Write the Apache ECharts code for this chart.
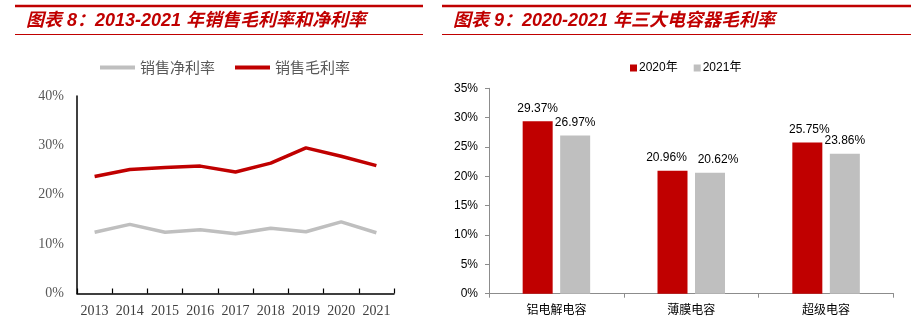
<!DOCTYPE html>
<html>
<head>
<meta charset="utf-8">
<script src="https://cdn.jsdelivr.net/npm/echarts@6/dist/echarts.min.js"></script>
<style>
html,body{margin:0;padding:0;background:#fff;}
#c{width:922px;height:324px;}
</style>
</head>
<body>
<div id="c"></div>
<script>
// Left chart: 2013-2021 gross and net margin (%)
const years = ['2013','2014','2015','2016','2017','2018','2019','2020','2021'];
const netMargin = [12.4, 14.0, 12.4, 12.9, 12.1, 13.2, 12.5, 14.5, 12.3];
const grossMargin = [23.7, 25.1, 25.5, 25.8, 24.6, 26.4, 29.5, 27.8, 25.9];
const leftNames = ['销售净利率', '销售毛利率'];

// Right chart: 2020-2021 gross margin of three capacitor types (%)
const capTypes = ['铝电解电容', '薄膜电容', '超级电容'];
const gm2020 = [29.37, 20.96, 25.75];
const gm2021 = [26.97, 20.62, 23.86];
const rightNames = ['2020年', '2021年'];

const title1 = '图表 8：2013-2021 年销售毛利率和净利率';
const title2 = '图表 9：2020-2021 年三大电容器毛利率';

const RED = '#C00000';
const GRAY = '#BFBFBF';
const SANS = 'Liberation Sans, Arial, Noto Sans CJK SC, sans-serif';
const SERIF = 'Liberation Serif, Times New Roman, Noto Serif CJK SC, Noto Sans CJK SC, serif';
const CJK = 'Noto Sans CJK SC, sans-serif';

// horizontal nudges of value labels (layout only) to avoid overlap
const offs2020 = [0, -6, 2];
const offs2021 = [0, 8, 0];

const chart = echarts.init(document.getElementById('c'), null, {renderer: 'canvas'});

const labelStyle = {show: true, position: 'top', distance: 7, formatter: p => p.value.toFixed(2) + '%',
                    fontFamily: SANS, fontSize: 12, color: '#000'};

chart.setOption({
  animation: false,
  backgroundColor: '#fff',
  graphic: [
    {type: 'line', shape: {x1: 15, y1: 6, x2: 423, y2: 6}, style: {stroke: RED, lineWidth: 2.5}},
    {type: 'line', shape: {x1: 15, y1: 34.5, x2: 423, y2: 34.5}, style: {stroke: RED, lineWidth: 1}},
    {type: 'line', shape: {x1: 442, y1: 6, x2: 911, y2: 6}, style: {stroke: RED, lineWidth: 2.5}},
    {type: 'line', shape: {x1: 442, y1: 34.5, x2: 911, y2: 34.5}, style: {stroke: RED, lineWidth: 1}},
    {type: 'text', left: 26, top: 12, style: {text: title1, fill: RED, font: 'italic bold 18px ' + SANS}},
    {type: 'text', left: 453, top: 12, style: {text: title2, fill: RED, font: 'italic bold 18px ' + SANS}}
  ],
  legend: [
    {
      data: leftNames,
      left: 95, top: 55,
      icon: 'rect',
      itemWidth: 35, itemHeight: 4,
      itemGap: 20,
      textStyle: {fontFamily: CJK, fontSize: 15, color: '#595959'}
    },
    {
      data: rightNames,
      left: 625, top: 57,
      icon: 'rect',
      itemWidth: 7, itemHeight: 7,
      itemGap: 16,
      textStyle: {fontFamily: SANS, fontSize: 12, color: '#000', padding: [0,0,0,-3]}
    }
  ],
  grid: [
    {left: 77, top: 96, width: 317, height: 197.5, containLabel: false},
    {left: 489, top: 88.3, width: 404.5, height: 205.4, containLabel: false}
  ],
  xAxis: [
    {
      gridIndex: 0, type: 'category', data: years, boundaryGap: true,
      axisLine: {lineStyle: {color: '#000', width: 1.5}},
      axisTick: {show: true, inside: true, length: 5, lineStyle: {color: '#000', width: 1.2}},
      axisLabel: {fontFamily: SERIF, fontSize: 14, color: '#404040', margin: 11, interval: 0}
    },
    {
      gridIndex: 1, type: 'category', data: capTypes, boundaryGap: true,
      axisLine: {lineStyle: {color: '#8c8c8c', width: 1}},
      axisTick: {show: true, inside: false, length: 4, lineStyle: {color: '#8c8c8c'}},
      axisLabel: {fontFamily: CJK, fontSize: 12, color: '#000', margin: 10, interval: 0}
    }
  ],
  yAxis: [
    {
      gridIndex: 0, type: 'value', min: 0, max: 40, interval: 10,
      axisLine: {show: true, lineStyle: {color: '#000', width: 1.5}},
      axisTick: {show: false},
      splitLine: {show: false},
      axisLabel: {formatter: '{value}%', fontFamily: SERIF, fontSize: 14, color: '#595959', margin: 13}
    },
    {
      gridIndex: 1, type: 'value', min: 0, max: 35, interval: 5,
      axisLine: {show: true, lineStyle: {color: '#8c8c8c', width: 1}},
      axisTick: {show: true, length: 4, lineStyle: {color: '#8c8c8c'}},
      splitLine: {show: false},
      axisLabel: {formatter: '{value}%', fontFamily: SANS, fontSize: 12, color: '#000', margin: 11}
    }
  ],
  series: [
    {
      name: leftNames[0], type: 'line', xAxisIndex: 0, yAxisIndex: 0,
      data: netMargin, symbol: 'none', smooth: false,
      lineStyle: {color: GRAY, width: 3.5}, itemStyle: {color: GRAY}
    },
    {
      name: leftNames[1], type: 'line', xAxisIndex: 0, yAxisIndex: 0,
      data: grossMargin, symbol: 'none', smooth: false,
      lineStyle: {color: RED, width: 3.5}, itemStyle: {color: RED}
    },
    {
      name: rightNames[0], type: 'bar', xAxisIndex: 1, yAxisIndex: 1,
      data: gm2020.map((v, i) => ({value: v, label: {offset: [offs2020[i], 0]}})),
      barWidth: 30, barGap: '25%',
      itemStyle: {color: RED},
      label: labelStyle
    },
    {
      name: rightNames[1], type: 'bar', xAxisIndex: 1, yAxisIndex: 1,
      data: gm2021.map((v, i) => ({value: v, label: {offset: [offs2021[i], 0]}})),
      barWidth: 30, barGap: '25%',
      itemStyle: {color: GRAY},
      label: labelStyle
    }
  ]
});
</script>
</body>
</html>
